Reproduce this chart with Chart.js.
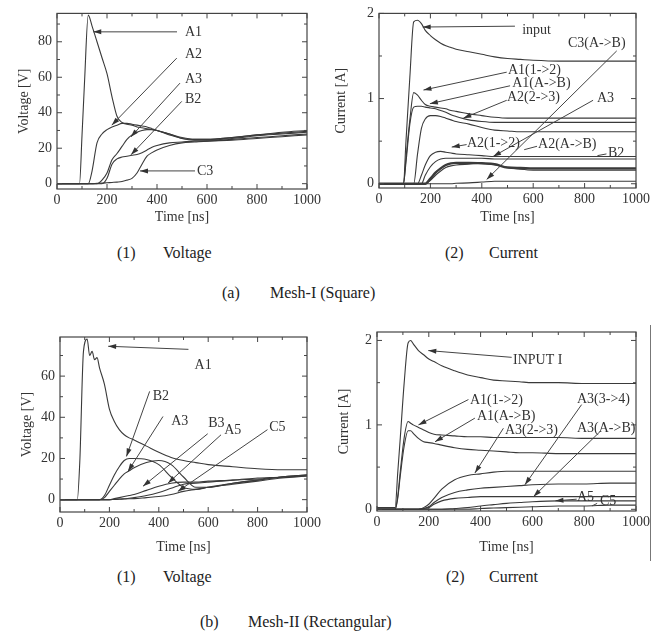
<!DOCTYPE html>
<html>
<head>
<meta charset="utf-8">
<script src="https://cdn.jsdelivr.net/npm/chart.js@4/dist/chart.umd.min.js"></script>
<style>
  body { margin: 0; background: #fff; width: 663px; height: 639px; position: relative; overflow: hidden;
         font-family: "Liberation Serif", "Times New Roman", serif; color: #222; }
  canvas { position: absolute; }
  .cap { position: absolute; font-size: 16px; line-height: 18px; white-space: nowrap; }
  .edge { position: absolute; left: 650px; top: 325px; width: 1px; height: 236px; background: #777; }
</style>
</head>
<body>
<canvas id="c1" width="325" height="225" style="left:0;top:0"></canvas>
<canvas id="c2" width="333" height="225" style="left:330px;top:0"></canvas>
<canvas id="c3" width="325" height="245" style="left:0;top:310px"></canvas>
<canvas id="c4" width="333" height="245" style="left:330px;top:310px"></canvas>
<div class="edge"></div>

<div class="cap" style="left:117px;top:244px">(1)</div>
<div class="cap" style="left:163px;top:244px">Voltage</div>
<div class="cap" style="left:445px;top:244px">(2)</div>
<div class="cap" style="left:489px;top:244px">Current</div>
<div class="cap" style="left:222px;top:284px">(a)</div>
<div class="cap" style="left:270px;top:284px">Mesh-I (Square)</div>
<div class="cap" style="left:117px;top:568px">(1)</div>
<div class="cap" style="left:163px;top:568px">Voltage</div>
<div class="cap" style="left:446px;top:568px">(2)</div>
<div class="cap" style="left:489px;top:568px">Current</div>
<div class="cap" style="left:200px;top:613px">(b)</div>
<div class="cap" style="left:248px;top:613px">Mesh-II (Rectangular)</div>

<script>
// ---- data ----
const timeTicks = [0, 200, 400, 600, 800, 1000];

// (a)(1) Mesh-I voltage
const T1 = [0, 90, 100, 110, 125, 140, 160, 180, 200, 220, 240, 260, 280, 300, 320, 340, 360, 380, 400, 450, 500, 550, 600, 700, 800, 900, 1000];
const v1A1 = [0, 0, 27, 57, 95, 89, 80, 71, 62, 49, 38, 34.5, 33.5, 33, 32, 31.5, 31, 30.5, 30, 27.5, 25.5, 25, 25, 26, 27.5, 29, 30];
const v1A2 = [0, 0, 0, 0, 0, 7, 23, 28, 30.5, 32, 33, 34, 34, 33.5, 33, 32.5, 32, 31, 30, 28, 26, 25, 25, 26, 27.5, 28.5, 29.5];
const v1A3 = [0, 0, 0, 0, 0, 0, 0, 2, 6, 13.5, 17, 21, 25, 27.5, 29, 30, 30.5, 30.5, 30, 28, 25.5, 24.5, 24.5, 25.5, 27, 28, 29];
const v1B2 = [0, 0, 0, 0, 0, 0, 0, 0, 3, 11, 14, 15, 15.5, 16, 16.5, 17.5, 19, 20.5, 21.5, 23, 23.5, 24, 24, 25, 26, 27, 28];
const v1C3 = [0, 0, 0, 0, 0, 0, 0.2, 0.3, 0.5, 0.7, 0.9, 1.2, 2, 3, 6, 11, 15.5, 17.5, 19, 21.5, 23, 23.5, 24, 24.5, 25.5, 26.5, 27.5];
const vTicks1 = [0, 20, 40, 60, 80];
// label, text x, text y, line from x, y, to x, y, arrow head
const notes1 = [
  ['A1', 512, 85.6, 480, 85.6, 145, 85.6, true],
  ['A2', 512, 72.7, 479, 70.8, 219, 33, true],
  ['A3', 512, 58.6, 492, 56.7, 295, 26.3, true],
  ['B2', 512, 47.3, 499, 46.4, 296, 16.3, true],
  ['C3', 560, 6.9, 552, 7.2, 332, 7.2, true]
];

// (a)(2) Mesh-I current
const T2 = [0, 95, 105, 120, 135, 150, 165, 180, 200, 220, 240, 260, 280, 300, 350, 400, 450, 500, 550, 600, 700, 800, 900, 1000];
const i2Input = [0, 0, 0.5, 1.25, 1.9, 1.92, 1.88, 1.8, 1.74, 1.69, 1.65, 1.62, 1.6, 1.58, 1.55, 1.52, 1.49, 1.47, 1.46, 1.45, 1.44, 1.44, 1.44, 1.44];
const i2A1_12 = [0, 0, 0.3, 0.75, 1.07, 1.04, 0.98, 0.93, 0.91, 0.9, 0.89, 0.88, 0.86, 0.85, 0.82, 0.8, 0.78, 0.77, 0.77, 0.77, 0.77, 0.77, 0.77, 0.77];
const i2A1_AB = [0, 0, 0.25, 0.7, 0.9, 0.91, 0.91, 0.9, 0.89, 0.88, 0.86, 0.84, 0.81, 0.79, 0.75, 0.73, 0.72, 0.72, 0.72, 0.72, 0.72, 0.72, 0.72, 0.72];
const i2A2_23 = [0, 0, 0, 0, 0, 0.35, 0.65, 0.76, 0.8, 0.8, 0.79, 0.77, 0.75, 0.73, 0.7, 0.66, 0.63, 0.62, 0.61, 0.61, 0.61, 0.61, 0.61, 0.61];
const i2A2_12 = [0, 0, 0, 0, 0, 0, 0.1, 0.22, 0.33, 0.37, 0.38, 0.37, 0.36, 0.35, 0.34, 0.33, 0.32, 0.32, 0.32, 0.32, 0.32, 0.32, 0.32, 0.32];
const i2A2_AB = [0, 0, 0, 0, 0, 0, 0, 0.1, 0.2, 0.26, 0.29, 0.3, 0.3, 0.3, 0.3, 0.3, 0.29, 0.29, 0.29, 0.29, 0.29, 0.29, 0.29, 0.29];
const i2A3 = [0, 0, 0, 0, 0, 0, 0, 0, 0.06, 0.13, 0.18, 0.22, 0.24, 0.245, 0.245, 0.24, 0.23, 0.19, 0.185, 0.18, 0.18, 0.18, 0.18, 0.18];
const i2B2 = [0, 0, 0, 0, 0, 0, 0, 0, 0.04, 0.1, 0.15, 0.19, 0.21, 0.22, 0.23, 0.24, 0.22, 0.19, 0.17, 0.16, 0.16, 0.16, 0.16, 0.16];
const i2C3 = [0, 0, 0, 0, 0, 0, 0, 0, 0, 0, 0, 0, 0, 0.005, 0.01, 0.02, 0.03, 0.03, 0.03, 0.03, 0.03, 0.03, 0.03, 0.03];
const iTicks = [0, 1, 2];
const notes2 = [
  ['input', 557, 1.8, 529, 1.85, 170, 1.84, true],
  ['C3(A->B)', 735, 1.65, 925, 1.56, 419, 0.05, true],
  ['A1(1->2)', 502, 1.33, 497, 1.31, 173, 1.10, true],
  ['A1(A->B)', 518, 1.18, 510, 1.15, 198, 0.94, true],
  ['A2(2->3)', 498, 1.02, 497, 0.98, 328, 0.77, true],
  ['A3', 848, 1.0, 833, 0.98, 444, 0.32, true],
  ['A2(1->2)', 342, 0.48, 341, 0.46, 283, 0.43, true],
  ['A2(A->B)', 619, 0.46, 615, 0.44, 565, 0.40, false],
  ['B2', 891, 0.36, 885, 0.35, 850, 0.33, false]
];

// (b)(1) Mesh-II voltage
const T3 = [0, 70, 80, 95, 110, 120, 130, 140, 150, 160, 180, 200, 220, 240, 260, 280, 300, 350, 400, 450, 500, 550, 600, 700, 800, 900, 1000];
const v3A1 = [0, 0, 18, 72, 78, 70, 72, 68, 69, 64, 56, 44, 38, 34, 31.5, 30, 29, 26, 23, 20.5, 19, 18, 17, 16, 15, 14.5, 14.5];
const v3B2 = [0, 0, 0, 0, 0, 0, 0, 0, 0, 0, 2, 7, 12, 16, 19, 20, 20, 19.5, 17, 11, 6, 5, 6, 8, 9.5, 11, 12];
const v3A3 = [0, 0, 0, 0, 0, 0, 0, 0, 0, 0, 1, 4, 7, 10, 12.5, 14, 15.5, 18, 19, 17, 11, 6, 6, 8, 9.5, 11, 12];
const v3B3 = [0, 0, 0, 0, 0, 0, 0, 0, 0, 0, 0, 0, 0.5, 1, 1.5, 2, 2.5, 4.5, 6.5, 8, 8.5, 8.5, 9, 9.5, 10.5, 11, 12];
const v3A5 = [0, 0, 0, 0, 0, 0, 0, 0, 0, 0, 0, 0, 0.2, 0.3, 0.4, 0.7, 1, 2, 3.5, 5.5, 7.5, 8, 8.5, 9.5, 10, 11, 11.5];
const v3C5 = [0, 0, 0, 0, 0, 0, 0, 0, 0, 0, 0, 0, 0.1, 0.2, 0.3, 0.4, 0.5, 1, 1.5, 2.5, 4, 5, 6, 7.5, 9, 10.5, 11.5];
const vTicks3 = [0, 20, 40, 60];
const notes3 = [
  ['A1', 545, 65, 520, 73, 195, 74.5, true],
  ['B2', 375, 50, 363, 52.6, 269, 21, true],
  ['A3', 450, 38, 417, 40.4, 275, 13.7, true],
  ['B3', 600, 37, 598, 32, 336, 6.5, true],
  ['A5', 665, 33.5, 652, 31.5, 437, 8, true],
  ['C5', 847, 35, 840, 34, 477, 4, true]
];

// (b)(2) Mesh-II current
const T4 = [0, 70, 80, 90, 105, 120, 130, 140, 160, 180, 200, 220, 250, 300, 350, 400, 450, 500, 550, 600, 700, 800, 900, 1000];
const i4Input = [0.02, 0.02, 0.43, 0.85, 1.5, 1.97, 2.0, 1.96, 1.88, 1.83, 1.78, 1.75, 1.7, 1.64, 1.59, 1.56, 1.53, 1.52, 1.51, 1.5, 1.5, 1.49, 1.49, 1.49];
const i4A1_12 = [0, 0, 0.15, 0.45, 0.85, 1.04, 1.02, 1.0, 0.97, 0.94, 0.91, 0.89, 0.88, 0.87, 0.86, 0.86, 0.85, 0.85, 0.85, 0.85, 0.85, 0.84, 0.84, 0.84];
const i4A1_AB = [0, 0, 0.13, 0.4, 0.75, 0.93, 0.93, 0.9, 0.84, 0.8, 0.79, 0.78, 0.76, 0.73, 0.71, 0.7, 0.69, 0.68, 0.67, 0.67, 0.66, 0.66, 0.66, 0.66];
const i4A3_23 = [0, 0, 0, 0, 0, 0, 0, 0, 0, 0.02, 0.06, 0.13, 0.24, 0.35, 0.4, 0.42, 0.44, 0.45, 0.45, 0.45, 0.45, 0.45, 0.45, 0.45];
const i4A3_34 = [0, 0, 0, 0, 0, 0, 0, 0, 0, 0.01, 0.03, 0.08, 0.14, 0.2, 0.23, 0.25, 0.26, 0.27, 0.28, 0.29, 0.3, 0.3, 0.31, 0.31];
const i4A3_AB = [0, 0, 0, 0, 0, 0, 0, 0, 0, 0.01, 0.02, 0.06, 0.1, 0.13, 0.14, 0.15, 0.15, 0.15, 0.15, 0.15, 0.15, 0.15, 0.15, 0.15];
const i4A5 = [0, 0, 0, 0, 0, 0, 0, 0, 0, 0, 0, 0, 0, 0.01, 0.02, 0.04, 0.055, 0.07, 0.08, 0.09, 0.1, 0.1, 0.1, 0.1];
const i4C5 = [0, 0, 0, 0, 0, 0, 0, 0, 0, 0, 0, 0, 0, 0, 0, 0.01, 0.015, 0.02, 0.025, 0.03, 0.04, 0.04, 0.05, 0.05];
const notes4 = [
  ['INPUT I', 525, 1.76, 520, 1.8, 198, 1.88, true],
  ['A1(1->2)', 359, 1.29, 353, 1.3, 160, 1.0, true],
  ['A1(A->B)', 386, 1.10, 378, 1.08, 224, 0.8, true],
  ['A3(2->3)', 494, 0.94, 488, 0.96, 378, 0.43, true],
  ['A3(3->4)', 772, 1.3, 790, 1.24, 571, 0.29, true],
  ['A3(A->B)', 772, 0.96, 861, 0.92, 604, 0.15, true],
  ['A5', 772, 0.14, 771, 0.12, 689, 0.1, true],
  ['C5', 861, 0.09, 850, 0.07, 830, 0.04, false]
];

// ---- drawing ----
const FONT = '"Liberation Serif", "Times New Roman", serif';
const INK = '#333';

function pts(t, v) {
  return t.map((x, i) => ({ x: x, y: v[i] }));
}

function line(t, v, w) {
  return {
    data: pts(t, v),
    borderColor: '#3a3a3a',
    borderWidth: w || 1.1,
    pointRadius: 0,
    fill: false,
    cubicInterpolationMode: 'monotone'
  };
}

// box frame, inward ticks and the arrow labels
const framePlugin = {
  id: 'frame',
  afterDatasetsDraw(chart, args, opts) {
    const { ctx, chartArea: a } = chart;
    const x = chart.scales.x, y = chart.scales.y;
    ctx.save();
    ctx.strokeStyle = '#444';
    ctx.lineWidth = 1.2;
    ctx.strokeRect(a.left, a.top, a.width, a.height);

    ctx.lineWidth = 1;
    const xt = (v, len) => {
      const px = x.getPixelForValue(v);
      ctx.beginPath();
      ctx.moveTo(px, a.bottom); ctx.lineTo(px, a.bottom - len);
      ctx.moveTo(px, a.top); ctx.lineTo(px, a.top + len);
      ctx.stroke();
    };
    const yt = (v, len) => {
      const py = y.getPixelForValue(v);
      ctx.beginPath();
      ctx.moveTo(a.left, py); ctx.lineTo(a.left + len, py);
      ctx.moveTo(a.right, py); ctx.lineTo(a.right - len, py);
      ctx.stroke();
    };
    for (let v = 0; v <= x.max + 1e-9; v += opts.xMinor) xt(v, v % 200 === 0 ? 5 : 3);
    const start = Math.ceil(y.min / opts.yMinor) * opts.yMinor;
    for (let v = start; v <= y.max + 1e-9; v += opts.yMinor) {
      const major = Math.abs(v / opts.yMajor - Math.round(v / opts.yMajor)) < 1e-6;
      yt(v, major ? 5 : 3);
    }

    ctx.font = '14px ' + FONT;
    ctx.fillStyle = INK;
    ctx.strokeStyle = '#444';
    ctx.textBaseline = 'middle';
    ctx.textAlign = 'left';
    for (const n of opts.notes) {
      const x0 = x.getPixelForValue(n[3]), y0 = y.getPixelForValue(n[4]);
      const x1 = x.getPixelForValue(n[5]), y1 = y.getPixelForValue(n[6]);
      ctx.beginPath();
      ctx.moveTo(x0, y0); ctx.lineTo(x1, y1);
      ctx.stroke();
      if (n[7]) {
        const ang = Math.atan2(y1 - y0, x1 - x0);
        ctx.beginPath();
        ctx.moveTo(x1, y1);
        ctx.lineTo(x1 - 8 * Math.cos(ang) + 2.5 * Math.sin(ang), y1 - 8 * Math.sin(ang) - 2.5 * Math.cos(ang));
        ctx.lineTo(x1 - 8 * Math.cos(ang) - 2.5 * Math.sin(ang), y1 - 8 * Math.sin(ang) + 2.5 * Math.cos(ang));
        ctx.closePath();
        ctx.fill();
      }
      ctx.fillText(n[0], x.getPixelForValue(n[1]), y.getPixelForValue(n[2]));
    }
    ctx.restore();
  }
};

function makeChart(id, datasets, c) {
  return new Chart(document.getElementById(id), {
    type: 'line',
    data: { datasets: datasets },
    options: {
      responsive: false,
      animation: false,
      layout: { padding: c.pad },
      plugins: {
        legend: { display: false },
        tooltip: { enabled: false },
        frame: { notes: c.notes, xMinor: 100, yMinor: c.yMinor, yMajor: c.yMajor }
      },
      scales: {
        x: {
          type: 'linear', min: 0, max: 1000,
          afterBuildTicks: s => { s.ticks = timeTicks.map(v => ({ value: v })); },
          afterFit: s => { s.height = c.xh; },
          grid: { display: false, drawTicks: false },
          border: { display: false },
          ticks: { color: INK, padding: 4, maxRotation: 0, callback: v => String(v),
                   font: { family: FONT, size: 14, lineHeight: 1 } },
          title: { display: true, text: 'Time [ns]', color: INK, padding: { top: c.tpad, bottom: 0 },
                   font: { family: FONT, size: 14, lineHeight: 1.1 } }
        },
        y: {
          type: 'linear', min: c.ymin, max: c.ymax,
          afterBuildTicks: s => { s.ticks = c.yTicks.map(v => ({ value: v })); },
          afterFit: s => { s.width = c.yw; },
          grid: { display: false, drawTicks: false },
          border: { display: false },
          ticks: { color: INK, padding: 5, callback: v => String(v), font: { family: FONT, size: 14 } },
          title: { display: true, text: c.ytitle, color: INK, padding: { top: 0, bottom: 4 },
                   font: { family: FONT, size: 14, lineHeight: 1.1 } }
        }
      }
    },
    plugins: [framePlugin]
  });
}

makeChart('c1', [
  line(T1, v1A1), line(T1, v1A2), line(T1, v1A3), line(T1, v1B2), line(T1, v1C3)
], { pad: { left: 17, top: 13, right: 18, bottom: 0 }, yw: 40, xh: 36, tpad: 0, ymin: -3, ymax: 96,
     yTicks: vTicks1, yMinor: 10, yMajor: 20, ytitle: 'Voltage [V]', notes: notes1 });

makeChart('c2', [
  line(T2, i2Input), line(T2, i2A1_12), line(T2, i2A1_AB), line(T2, i2A2_23),
  line(T2, i2A2_12), line(T2, i2A2_AB), line(T2, i2A3, 2.4), line(T2, i2B2), line(T2, i2C3)
], { pad: { left: 4, top: 12, right: 27, bottom: 0 }, yw: 45, xh: 37, tpad: 0, ymin: -0.05, ymax: 2,
     yTicks: iTicks, yMinor: 0.5, yMajor: 1, ytitle: 'Current [A]', notes: notes2 });

makeChart('c3', [
  line(T3, v3A1), line(T3, v3B2), line(T3, v3A3), line(T3, v3B3), line(T3, v3A5), line(T3, v3C5)
], { pad: { left: 20, top: 27, right: 17, bottom: 0 }, yw: 40, xh: 43, tpad: 2, ymin: -6, ymax: 79,
     yTicks: vTicks3, yMinor: 10, yMajor: 20, ytitle: 'Voltage [V]', notes: notes3 });

makeChart('c4', [
  line(T4, i4Input), line(T4, i4A1_12), line(T4, i4A1_AB), line(T4, i4A3_23),
  line(T4, i4A3_34), line(T4, i4A3_AB), line(T4, i4A5), line(T4, i4C5)
], { pad: { left: 7, top: 22, right: 27, bottom: 0 }, yw: 40, xh: 44, tpad: 1, ymin: -0.02, ymax: 2.1,
     yTicks: iTicks, yMinor: 0.5, yMajor: 1, ytitle: 'Current [A]', notes: notes4 });
</script>
</body>
</html>
